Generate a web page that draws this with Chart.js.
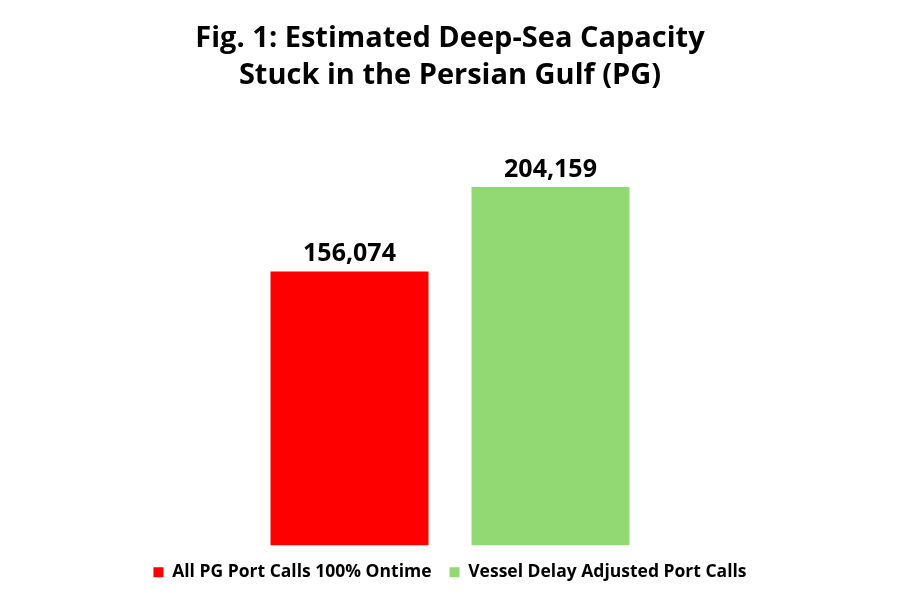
<!DOCTYPE html>
<html><head><meta charset="utf-8">
<script src="https://cdn.jsdelivr.net/npm/chart.js@4"></script>
<style>html,body{margin:0;padding:0;background:#fff}#w{width:900px;height:600px}</style>
</head><body><div id="w"><canvas id="c"></canvas></div>
<script>
const categories = [''];
const seriesNames = ['All PG Port Calls 100% Ontime', 'Vessel Delay Adjusted Port Calls'];
const seriesValues = [[156074], [204159]];
const seriesColors = ['#ff0000', '#92d973'];
const titleLines = ['Fig. 1: Estimated Deep-Sea Capacity', 'Stuck in the Persian Gulf (PG)'];

const labelPlugin = {
  id: 'vlabels',
  afterDatasetsDraw(chart) {
    const ctx = chart.ctx;
    ctx.save();
    ctx.font = 'bold 25px "Open Sans", sans-serif';
    ctx.fillStyle = '#000';
    ctx.textAlign = 'center';
    ctx.textBaseline = 'bottom';
    chart.data.datasets.forEach((ds, i) => {
      chart.getDatasetMeta(i).data.forEach((el, j) => {
        ctx.fillText(ds.data[j].toLocaleString('en-US'), el.x, el.y - 5);
      });
    });
    ctx.restore();
  }
};

new Chart(document.getElementById('c'), {
  type: 'bar',
  data: {
    labels: categories,
    datasets: seriesNames.map((n, i) => ({
      label: n, data: seriesValues[i], backgroundColor: seriesColors[i],
      categoryPercentage: 0.4467, barPercentage: 0.786
    }))
  },
  options: {
    responsive: true, maintainAspectRatio: false, animation: false,
    layout: { padding: { left: 0, right: 0, top: 0, bottom: 9 } },
    scales: {
      x: { display: false },
      y: { display: false, min: 0, max: 246000 }
    },
    plugins: {
      title: {
        display: true, text: titleLines, color: '#000',
        font: { family: '"Open Sans", sans-serif', size: 29, weight: 'bold', lineHeight: 1.25 },
        padding: { top: 21, bottom: 20 }
      },
      legend: {
        position: 'bottom',
        labels: {
          color: '#000', boxWidth: 10, boxHeight: 10, padding: 18,
          font: { family: '"Open Sans", sans-serif', size: 17.5, weight: 'bold' }
        }
      },
      tooltip: { enabled: false }
    }
  },
  plugins: [labelPlugin]
});
</script></body></html>
